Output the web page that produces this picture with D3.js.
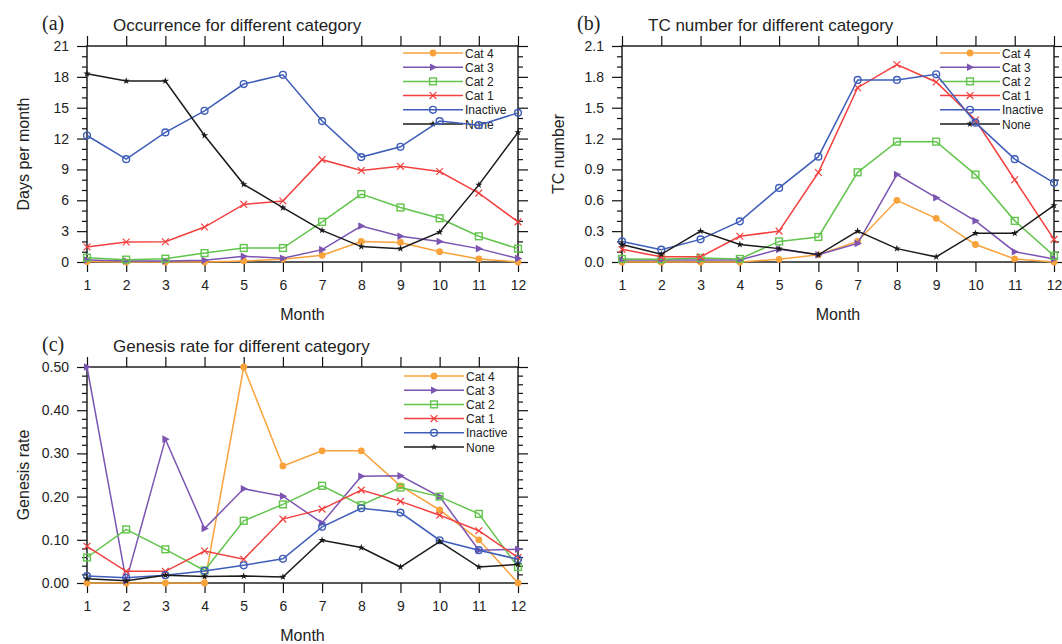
<!DOCTYPE html>
<html>
<head>
<meta charset="utf-8">
<script src="https://cdn.jsdelivr.net/npm/d3@7"></script>
<style>
  html, body { margin: 0; padding: 0; background: #fff; }
  svg { display: block; }
  text { font-family: "Liberation Sans", Arial, Helvetica, sans-serif; fill: #222; }
</style>
</head>
<body>
<svg id="chart" width="1062" height="644"></svg>
<script>
const months = [1,2,3,4,5,6,7,8,9,10,11,12];
const seriesNames = ["Cat 4","Cat 3","Cat 2","Cat 1","Inactive","None"];
const seriesColors = ["#F8A23C","#7C55B2","#62C44C","#F2403F","#3E5DB9","#1a1a1a"];
const seriesMarkers = ["dot","tri","square","cross","ring","star"];

// (a) Occurrence (days per month)
const occCat4     = [0.05,0.0,0.0,0.0,0.1,0.26,0.65,2.0,1.9,1.0,0.3,0.0];
const occCat3     = [0.2,0.1,0.1,0.16,0.55,0.36,1.2,3.5,2.5,2.0,1.3,0.35];
const occCat2     = [0.42,0.23,0.32,0.87,1.36,1.36,3.9,6.6,5.3,4.25,2.5,1.3];
const occCat1     = [1.46,1.94,1.97,3.4,5.6,5.93,9.95,8.9,9.3,8.8,6.7,3.9];
const occInactive = [12.3,10.0,12.6,14.7,17.3,18.2,13.7,10.2,11.2,13.7,13.3,14.5];
const occNone     = [18.3,17.6,17.6,12.3,7.55,5.28,3.08,1.5,1.3,2.9,7.5,12.6];
const occTicks    = [0,3,6,9,12,15,18,21];

// (b) TC number
const tcCat4     = [0.0,0.0,0.0,0.0,0.026,0.07,0.2,0.60,0.425,0.17,0.03,0.0];
const tcCat3     = [0.02,0.02,0.02,0.02,0.123,0.07,0.18,0.85,0.625,0.40,0.10,0.03];
const tcCat2     = [0.03,0.026,0.04,0.03,0.20,0.243,0.872,1.17,1.17,0.85,0.40,0.06];
const tcCat1     = [0.123,0.05,0.05,0.25,0.30,0.87,1.695,1.92,1.75,1.38,0.80,0.22];
const tcInactive = [0.20,0.12,0.22,0.395,0.72,1.024,1.77,1.77,1.825,1.355,1.0,0.77];
const tcNone     = [0.17,0.075,0.30,0.17,0.13,0.07,0.30,0.13,0.05,0.28,0.28,0.55];
const tcTicks    = [0,0.3,0.6,0.9,1.2,1.5,1.8,2.1];

// (c) Genesis rate
const grCat4     = [0.0,0.0,0.0,0.0,0.50,0.271,0.306,0.306,0.225,0.169,0.10,0.0];
const grCat3     = [0.50,0.005,0.333,0.126,0.218,0.201,0.139,0.247,0.248,0.200,0.076,0.078];
const grCat2     = [0.059,0.124,0.078,0.029,0.144,0.182,0.225,0.180,0.221,0.200,0.160,0.037];
const grCat1     = [0.085,0.027,0.027,0.074,0.055,0.148,0.171,0.215,0.189,0.157,0.121,0.059];
const grInactive = [0.016,0.012,0.018,0.028,0.041,0.056,0.130,0.173,0.163,0.099,0.076,0.055];
const grNone     = [0.010,0.005,0.018,0.015,0.016,0.014,0.099,0.082,0.037,0.096,0.037,0.043];
const grTicks    = [0,0.1,0.2,0.3,0.4,0.5];

const svg = d3.select("#chart");
svg.append("rect").attr("width",1062).attr("height",644).attr("fill","#fff");

function marker(g, type, x, y, color) {
  if (type === "dot") {
    g.append("circle").attr("cx",x).attr("cy",y).attr("r",3.4).attr("fill",color);
  } else if (type === "ring") {
    g.append("circle").attr("cx",x).attr("cy",y).attr("r",3.4).attr("fill","none").attr("stroke",color).attr("stroke-width",1.4);
  } else if (type === "square") {
    g.append("rect").attr("x",x-3.4).attr("y",y-3.4).attr("width",6.8).attr("height",6.8).attr("fill","none").attr("stroke",color).attr("stroke-width",1.4);
  } else if (type === "cross") {
    g.append("path").attr("d",`M${x-3.4},${y-3.4}L${x+3.4},${y+3.4}M${x-3.4},${y+3.4}L${x+3.4},${y-3.4}`).attr("stroke",color).attr("stroke-width",1.2);
  } else if (type === "tri") {
    g.append("path").attr("d",`M${x-3},${y-3.8}L${x+4.3},${y}L${x-3},${y+3.8}Z`).attr("fill",color);
  } else if (type === "star") {
    g.append("path").attr("d",d3.symbol(d3.symbolStar,16)()).attr("transform",`translate(${x},${y})`).attr("fill",color);
  }
}

function panel(opt) {
  const {left, top, width, height, domainMax, ticks, minorStep, fmt, data, title, letter, ylabel, legendX, legendY} = opt;
  const g = svg.append("g");
  const x = d3.scaleLinear().domain([1,12]).range([left, left+width]);
  const y = d3.scaleLinear().domain([0,domainMax]).range([top+height, top]);
  const minor = d3.range(0, domainMax + minorStep/2, minorStep).map(v => +v.toFixed(4)).filter(v => !ticks.some(t => Math.abs(t-v) < 1e-6));

  const styleAxis = sel => {
    sel.select(".domain").remove();
    sel.selectAll("line").attr("stroke","#111").attr("stroke-width",1.2);
    sel.selectAll("text").attr("font-size",14).attr("fill","#222").attr("font-family","Liberation Sans, Arial, sans-serif");
  };
  g.append("rect").attr("x",left).attr("y",top).attr("width",width).attr("height",height)
    .attr("fill","none").attr("stroke","#111").attr("stroke-width",1.4);

  g.append("g").attr("transform",`translate(0,${top+height})`)
    .call(d3.axisBottom(x).tickValues(months).tickSize(10).tickPadding(8).tickSizeOuter(0).tickFormat(d3.format("d")))
    .call(styleAxis);
  g.append("g").attr("transform",`translate(0,${top})`)
    .call(d3.axisTop(x).tickValues(months).tickSize(10).tickSizeOuter(0).tickFormat(""))
    .call(styleAxis);
  g.append("g").attr("transform",`translate(${left},0)`)
    .call(d3.axisLeft(y).tickValues(ticks).tickSize(10).tickPadding(8).tickSizeOuter(0).tickFormat(fmt))
    .call(styleAxis);
  g.append("g").attr("transform",`translate(${left},0)`)
    .call(d3.axisLeft(y).tickValues(minor).tickSize(5).tickSizeOuter(0).tickFormat(""))
    .call(styleAxis);
  g.append("g").attr("transform",`translate(${left+width},0)`)
    .call(d3.axisRight(y).tickValues(ticks).tickSize(10).tickSizeOuter(0).tickFormat(""))
    .call(styleAxis);
  g.append("g").attr("transform",`translate(${left+width},0)`)
    .call(d3.axisRight(y).tickValues(minor).tickSize(5).tickSizeOuter(0).tickFormat(""))
    .call(styleAxis);

  g.append("text").attr("x",left-45).attr("y",top-16).attr("font-size",20)
    .style("font-family","'Liberation Serif', 'Times New Roman', serif").text(letter);
  g.append("text").attr("x",left+26).attr("y",top-15).attr("font-size",17).text(title);
  g.append("text").attr("transform",`translate(${left-58},${top+height/2}) rotate(-90)`)
    .attr("text-anchor","middle").attr("font-size",16).text(ylabel);
  g.append("text").attr("x",left+width/2).attr("y",top+height+58).attr("text-anchor","middle")
    .attr("font-size",16).text("Month");

  const lg = g.append("g");
  seriesNames.forEach((name,i) => {
    const ly = legendY + i*14.2;
    lg.append("line").attr("x1",legendX).attr("x2",legendX+60).attr("y1",ly).attr("y2",ly)
      .attr("stroke",seriesColors[i]).attr("stroke-width",1.5);
    marker(lg, seriesMarkers[i], legendX+30, ly, seriesColors[i]);
    lg.append("text").attr("x",legendX+62).attr("y",ly+4.5).attr("font-size",12).text(name);
  });

  const line = d3.line().x((d,i) => x(months[i])).y(d => y(d));
  data.forEach((vals,i) => {
    const sg = g.append("g");
    sg.append("path").attr("d",line(vals)).attr("fill","none")
      .attr("stroke",seriesColors[i]).attr("stroke-width",1.5);
    vals.forEach((v,j) => marker(sg, seriesMarkers[i], x(months[j]), y(v), seriesColors[i]));
  });
}

panel({left:87, top:46, width:431, height:216, domainMax:21, ticks:occTicks, minorStep:1,
  fmt:d3.format("d"), data:[occCat4,occCat3,occCat2,occCat1,occInactive,occNone],
  title:"Occurrence for different category", letter:"(a)", ylabel:"Days per month",
  legendX:403, legendY:53});

panel({left:622, top:46, width:432, height:216, domainMax:2.1, ticks:tcTicks, minorStep:0.1,
  fmt:d3.format(".1f"), data:[tcCat4,tcCat3,tcCat2,tcCat1,tcInactive,tcNone],
  title:"TC number for different category", letter:"(b)", ylabel:"TC number",
  legendX:940, legendY:53});

panel({left:87, top:367, width:431, height:216, domainMax:0.5, ticks:grTicks, minorStep:0.02,
  fmt:d3.format(".2f"), data:[grCat4,grCat3,grCat2,grCat1,grInactive,grNone],
  title:"Genesis rate for different category", letter:"(c)", ylabel:"Genesis rate",
  legendX:404, legendY:376});
</script>
</body>
</html>
